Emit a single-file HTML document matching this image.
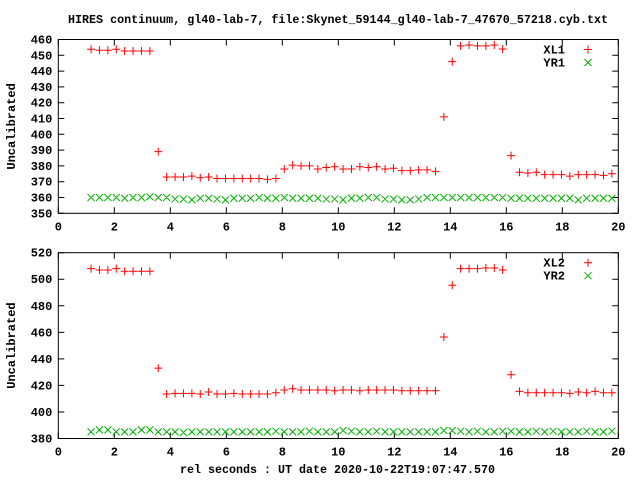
<!DOCTYPE html>
<html><head><meta charset="utf-8"><style>
html,body{margin:0;padding:0;background:#fff}
svg{display:block}
text{font-family:"Liberation Mono",monospace;font-weight:bold;font-size:12px;fill:#000}
</style></head><body>
<svg id="c" width="640" height="480" xmlns="http://www.w3.org/2000/svg">
<text x="68" y="23" textLength="540" lengthAdjust="spacingAndGlyphs">HIRES continuum, gl40-lab-7, file:Skynet_59144_gl40-lab-7_47670_57218.cyb.txt</text>
<text x="180" y="473" textLength="315" lengthAdjust="spacingAndGlyphs">rel seconds : UT date 2020-10-22T19:07:47.570</text>
</svg>
<script>
const times=[1.17,1.47,1.77,2.07,2.37,2.67,2.97,3.27,3.57,3.87,4.17,4.47,4.77,5.07,5.37,5.67,5.97,6.27,6.57,6.87,7.17,7.47,7.77,8.07,8.37,8.67,8.97,9.27,9.57,9.87,10.17,10.47,10.77,11.07,11.37,11.67,11.97,12.27,12.57,12.87,13.17,13.47,13.77,14.07,14.37,14.67,14.97,15.27,15.57,15.87,16.17,16.47,16.77,17.07,17.37,17.67,17.97,18.27,18.57,18.87,19.17,19.47,19.77];
const xl1=[453.8,453.2,453.2,453.8,452.7,452.7,452.7,452.7,389,373,373,373,373.5,372.5,373,372,372,372,372,372,372,371.5,372,378,380.5,380,380,378,379,379.5,378,378,379.5,379,379.5,378,378.5,377,377,377.5,377.5,376.5,411,446,456,456.5,456,456,456.5,454,386.5,376,375.5,376,374.5,374.5,374.5,373.5,374.5,374.5,374.5,374,375];
const yr1=[360,360,360,360,359.5,360,360,360.5,360,360,359,359,358.5,359.5,359.5,359,358.5,359.5,359.5,359.5,360,359.5,359.5,360,359.5,359.5,359.5,359.5,359,359,358.5,359.5,359.5,360,360,359,359,358.5,358.5,359,360,360,360,360,360,360,360,360,360,360,359.5,359.5,359.5,359.5,359.5,359.5,359.5,359.5,358.5,359.5,359.5,359.5,359.5];
const xl2=[508,507,507,508,506,506,506,506,433,413.5,414,414,414,413.5,415,413.5,413.5,414,413.5,413.5,413.5,413.5,414.5,416.5,417.5,416.5,416.5,416.5,416.5,416,416.5,416.5,416,416.5,416.5,416.5,416.5,416,416,416,416,416,456.5,495.5,508,508,508,508.5,508.5,507,428,415.5,414.5,414.5,414.5,414.5,414.5,414,415,414.5,415.5,414.5,414.5];
const yr2=[385,386.5,386.5,385,385,385,386.5,386.5,385,385,385,384.5,385,385,385,385,385,385,385,385,385,385,385.5,385,385,385,385.5,385,385,385,386,385.5,385,385,385.5,385,385,385,385,385,385,385,386,386,385.5,385,385.5,385,385,385.5,385.5,385,385,385.5,385,385.5,385,385,385,385.5,385,385,385.5];
const xTicks=[0,2,4,6,8,10,12,14,16,18,20];
const yTicks1=[350,360,370,380,390,400,410,420,430,440,450,460];
const yTicks2=[380,400,420,440,460,480,500,520];
const svg=document.getElementById('c');
const NS='http://www.w3.org/2000/svg';
function mk(tag,attrs){const e=document.createElementNS(NS,tag);for(const k in attrs)e.setAttribute(k,attrs[k]);svg.appendChild(e);return e;}
const L=58.3,R=618.3;
function xs(v){return L+(v-0)/(20-0)*(R-L);}
function panel(top,bot,ymin,ymax,yTicks,s1,s2,n1,n2,idx){
  const ys=v=>bot-(v-ymin)/(ymax-ymin)*(bot-top);
  const f=mk('rect',{x:L,y:top,width:R-L,height:bot-top,fill:'none',stroke:'#000','stroke-width':1});
  
  
  xTicks.forEach(t=>{
    const x=xs(t);
    const a=mk('path',{d:`M${x},${bot}v-6M${x},${top}v6`,stroke:'#000','stroke-width':1});
    
    
    const tx=mk('text',{x:x,y:bot+17,'text-anchor':'middle'});tx.textContent=t;
    
    
  });
  yTicks.forEach(t=>{
    const y=ys(t);
    const a=mk('path',{d:`M${L},${y}h6M${R},${y}h-6`,stroke:'#000','stroke-width':1});
    
    
    const tx=mk('text',{x:L-6,y:y+4,'text-anchor':'end'});tx.textContent=t;
    
    
  });
  const yl=mk('text',{x:0,y:0,'text-anchor':'middle',transform:`translate(15,${(top+bot)/2}) rotate(-90)`});
  yl.textContent='Uncalibrated';
  
  
  const plus=(x,y)=>`M${x-4},${y}h8M${x},${y-4}v8`;
  const cross=(x,y)=>`M${x-3.5},${y-3.5}l7,7M${x-3.5},${y+3.5}l7,-7`;
  let d1='',d2='';
  times.forEach((t,i)=>{d1+=plus(xs(t),ys(s1[i]));d2+=cross(xs(t),ys(s2[i]));});
  const p2=mk('path',{d:d2,stroke:'#00b000','stroke-width':1,fill:'none'});
  
  
  const p1=mk('path',{d:d1,stroke:'#f00','stroke-width':1,fill:'none'});
  
  
  const lt1=mk('text',{x:565,y:top+14,'text-anchor':'end'});lt1.textContent=n1;
  
  
  const lm1=mk('path',{d:plus(588,top+10),stroke:'#f00','stroke-width':1});
  
  
  const lt2=mk('text',{x:565,y:top+27,'text-anchor':'end'});lt2.textContent=n2;
  
  
  const lm2=mk('path',{d:cross(588,top+23),stroke:'#00b000','stroke-width':1});
  
  
}
panel(39.5,213.3,350,460,yTicks1,xl1,yr1,'XL1','YR1',1);
panel(252.7,438.5,380,520,yTicks2,xl2,yr2,'XL2','YR2',2);
</script>
</body></html>
